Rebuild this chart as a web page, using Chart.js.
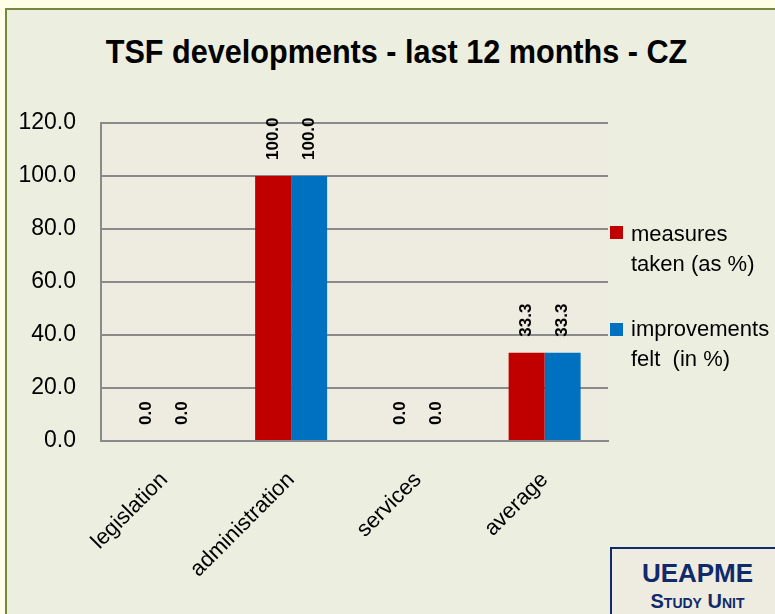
<!DOCTYPE html>
<html>
<head>
<meta charset="utf-8">
<script src="https://cdn.jsdelivr.net/npm/chart.js@4"></script>
<style>
  html, body { margin: 0; padding: 0; }
  body { width: 775px; height: 614px; background: #FFFFE8; overflow: hidden; position: relative;
         font-family: 'Liberation Sans', Arial, sans-serif; }
  #frame { position: absolute; left: 5px; top: 8px; width: 820px; height: 700px;
           border: 2px solid #76873F; background: #ECEEDF; }
  #title { position: absolute; left: 0; top: 34px; width: 793px; text-align: center;
           font-size: 34px; line-height: 34px; font-weight: bold; color: #000;
           transform: scaleX(0.9); transform-origin: center; white-space: nowrap; }
  .legend-box { position: absolute; width: 13px; height: 13px; left: 610px; }
  .legend-text { position: absolute; left: 631px; font-size: 22px; line-height: 30px; color: #000; }
  #badge { position: absolute; left: 610px; top: 547px; width: 200px; height: 100px;
           border: 2px solid #102A6A; background: #EEECE1; }
  .badge-text { position: absolute; left: 610px; width: 175px; text-align: center;
                color: #102A6A; font-weight: bold; white-space: nowrap; }
  #chartWrap { position: absolute; left: 0; top: 0; width: 775px; height: 614px; }
</style>
</head>
<body>
<div id="frame"></div>
<div id="title">TSF developments - last 12 months - CZ</div>
<div id="chartWrap"><canvas id="tsfChart" width="775" height="614"></canvas></div>

<div class="legend-box" style="top:226px; background:#C00000;"></div>
<div class="legend-text" style="top:219px;">measures<br>taken (as %)</div>
<div class="legend-box" style="top:323px; background:#0070C0;"></div>
<div class="legend-text" style="top:314px;">improvements<br>felt &nbsp;(in %)</div>

<div id="badge"></div>
<div class="badge-text" style="top:560px; font-size:26px; line-height:26px;">UEAPME</div>
<div class="badge-text" style="top:591px; font-size:20px; line-height:20px; font-variant:small-caps;">Study Unit</div>

<script>
// dati
const categories = ['legislation', 'administration', 'services', 'average'];
const measuresTaken = [0.0, 100.0, 0.0, 33.3];
const improvementsFelt = [0.0, 100.0, 0.0, 33.3];
const yMin = 0;
const yMax = 120;
const yStep = 20;

Chart.defaults.font.family = "'Liberation Sans', Arial, sans-serif";
Chart.defaults.color = '#000';

// sfondo dell'area del grafico
const plotBackground = {
    id: 'plotBackground',
    beforeDraw(chart) {
        const { ctx, chartArea } = chart;
        ctx.save();
        ctx.fillStyle = '#EEECE1';
        ctx.fillRect(chartArea.left, chartArea.top, chartArea.right - chartArea.left, chartArea.bottom - chartArea.top);
        ctx.restore();
    }
};

// etichette verticali sopra le barre
const valueLabels = {
    id: 'valueLabels',
    afterDatasetsDraw(chart) {
        const ctx = chart.ctx;
        ctx.save();
        ctx.font = 'bold 17px "Liberation Sans", Arial, sans-serif';
        ctx.fillStyle = '#000';
        ctx.textAlign = 'left';
        ctx.textBaseline = 'middle';
        chart.data.datasets.forEach(function (ds, i) {
            chart.getDatasetMeta(i).data.forEach(function (bar, j) {
                ctx.save();
                ctx.translate(bar.x, bar.y - 16);
                ctx.rotate(-Math.PI / 2);
                ctx.fillText(ds.data[j].toFixed(1), 0, 0);
                ctx.restore();
            });
        });
        ctx.restore();
    }
};

const ctx = document.getElementById('tsfChart').getContext('2d');
new Chart(ctx, {
    type: 'bar',
    data: {
        labels: categories,
        datasets: [{
            label: 'measures taken (as %)',
            data: measuresTaken,
            backgroundColor: '#C00000'
        }, {
            label: 'improvements felt  (in %)',
            data: improvementsFelt,
            backgroundColor: '#0070C0'
        }]
    },
    options: {
        responsive: false,
        animation: false,
        layout: { padding: { left: 0, right: 167, top: 123, bottom: 0 } },
        categoryPercentage: 0.568,
        barPercentage: 1.0,
        plugins: {
            legend: { display: false },
            title: { display: false },
            tooltip: { enabled: false }
        },
        scales: {
            x: {
                afterFit(scale) { scale.height = 173; },
                grid: { display: false, drawTicks: false },
                border: { color: '#8A8A8A', width: 2 },
                ticks: { font: { size: 22 }, maxRotation: 45, minRotation: 45, padding: 26 }
            },
            y: {
                min: yMin,
                max: yMax,
                afterFit(scale) { scale.width = 101; },
                grid: { color: '#8A8A8A', lineWidth: 2, drawTicks: false },
                border: { color: '#8A8A8A', width: 2 },
                ticks: {
                    stepSize: yStep,
                    padding: 25,
                    font: { size: 23 },
                    callback: function (v) { return v.toFixed(1); }
                }
            }
        }
    },
    plugins: [plotBackground, valueLabels]
});
</script>
</body>
</html>
